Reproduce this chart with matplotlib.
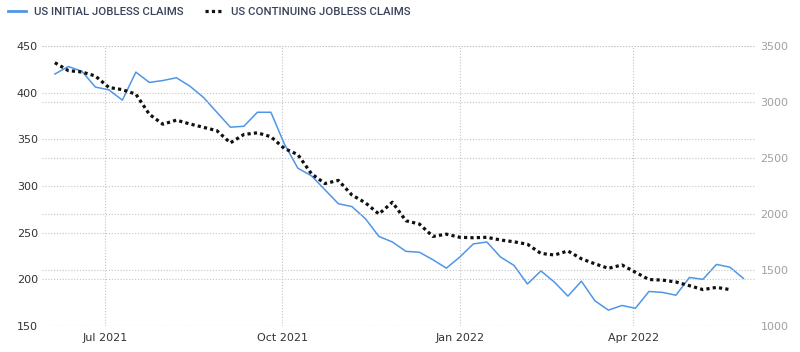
import matplotlib
matplotlib.use("Agg")
import matplotlib.pyplot as plt
import matplotlib.dates as mdates
import numpy as np
import pandas as pd

# ---- data (weekly) ----
initial_dates = pd.date_range("2021-06-05", periods=52, freq="7D")
initial_claims = [420, 428, 423, 406, 403, 392, 422, 411, 413, 416,
                  407, 395, 379, 363, 364, 379, 379, 345, 319, 311,
                  296, 281, 278, 265, 246, 240, 230, 229, 221, 212,
                  224, 238, 240, 224, 215, 195, 209, 197, 182, 198,
                  177, 167, 172, 169, 187, 186, 183, 202, 200, 216,
                  213, 201]

continuing_dates = pd.date_range("2021-06-05", periods=51, freq="7D")
continuing_claims = [3351, 3280, 3268, 3232, 3130, 3110, 3070, 2890, 2802, 2838,
                     2804, 2774, 2744, 2635, 2710, 2725, 2690, 2585, 2530, 2360,
                     2272, 2300, 2170, 2100, 2000, 2105, 1940, 1910, 1800, 1820,
                     1792, 1788, 1792, 1768, 1752, 1730, 1648, 1634, 1670, 1600,
                     1555, 1515, 1545, 1480, 1415, 1410, 1393, 1360, 1325, 1345,
                     1325]

label_initial = "US INITIAL JOBLESS CLAIMS"
label_continuing = "US CONTINUING JOBLESS CLAIMS"
left_ticks = [150, 200, 250, 300, 350, 400, 450]
right_ticks = [1000, 1500, 2000, 2500, 3000, 3500]

# ---- figure ----
fig = plt.figure(figsize=(8.0, 3.52), dpi=100)
ax = fig.add_axes([42/800, 26/352, (755-42)/800, (326-46)/352])
ax2 = ax.twinx()

blue = "#5096e6"
l1, = ax.plot(initial_dates, initial_claims, color=blue, lw=1.1, zorder=3,
              solid_joinstyle="round")
l2, = ax2.plot(continuing_dates, continuing_claims, color="#111111", lw=2.3,
               linestyle=(0, (1, 1)), dash_capstyle="butt", zorder=3)

ax.set_ylim(150, 450)
ax2.set_ylim(1000, 3500)
ax.set_yticks(left_ticks)
ax2.set_yticks(right_ticks)
ax.set_xlim(pd.Timestamp("2021-05-29 08:00"), pd.Timestamp("2022-06-03"))
ax.xaxis.set_major_locator(mdates.MonthLocator(bymonth=[1, 4, 7, 10]))
ax.xaxis.set_major_formatter(mdates.DateFormatter("%b %Y"))

grid_kw = dict(color="#c4c4c4", linestyle=(0, (1, 1.6)), linewidth=0.8)
ax.grid(True, axis="both", **grid_kw)
ax2.grid(True, axis="y", **grid_kw)
ax.set_axisbelow(True)

for a in (ax, ax2):
    for s in a.spines.values():
        s.set_visible(False)
    a.tick_params(length=0)

ax.tick_params(axis="y", labelsize=8, labelcolor="#333333", pad=3)
ax.tick_params(axis="x", labelsize=8, labelcolor="#333333", pad=5)
ax2.tick_params(axis="y", labelsize=8, labelcolor="#a0a0a0", pad=4)

leg = fig.legend([l1, l2], [label_initial, label_continuing], loc="center left",
                 bbox_to_anchor=(3/800, 1 - 12/352), ncol=2, frameon=False,
                 prop={"family": ["Roboto", "DejaVu Sans"], "size": 8.2, "weight": "medium"},
                 handlelength=1.6, handletextpad=0.7,
                 columnspacing=1.9, labelcolor="#38425a", borderaxespad=0.0)
leg.get_lines()[0].set_linewidth(2.0)

fig.savefig("out.png", dpi=100)
